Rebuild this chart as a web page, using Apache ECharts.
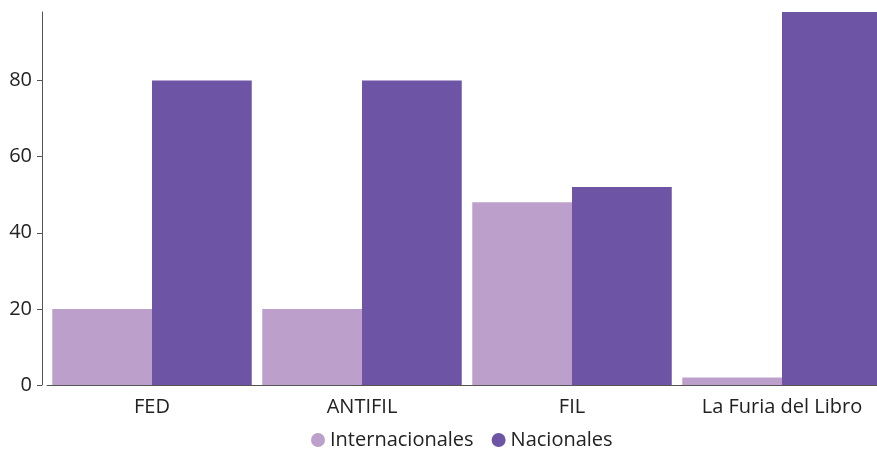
<!DOCTYPE html>
<html><head><meta charset="utf-8">
<script src="https://cdn.jsdelivr.net/npm/echarts@6/dist/echarts.min.js"></script>
<style>html,body{margin:0;padding:0;background:#fff;overflow:hidden;}#c{width:887px;height:450px;}</style>
</head><body><div id="c"></div>
<script>
const categories = ["FED", "ANTIFIL", "FIL", "La Furia del Libro"];
const internacionales = [20, 20, 48, 2];
const nacionales = [80, 80, 52, 98];
const seriesNames = ["Internacionales", "Nacionales"];
const yTicks = [0, 20, 40, 60, 80];
const colors = ["#bca0cb", "#6d54a5"];
const font = "'Open Sans', 'Noto Sans', sans-serif";

const chart = echarts.init(document.getElementById('c'), null, {renderer: 'canvas'});
chart.setOption({
  animation: false,
  color: colors,
  textStyle: {fontFamily: font},
  grid: {left: 47, right: 0, top: 12, bottom: 65, containLabel: false},
  legend: {
    top: 430, left: 311, padding: 0,
    icon: 'circle', itemWidth: 14, itemHeight: 14, itemGap: 18,
    textStyle: {fontSize: 20, color: '#222', fontFamily: font},
    data: seriesNames
  },
  xAxis: {
    type: 'category', data: categories,
    axisLine: {lineStyle: {color: '#555', width: 1}},
    axisTick: {alignWithLabel: true, length: 5, lineStyle: {color: '#555'}},
    axisLabel: {fontSize: 20, color: '#222', margin: 12}
  },
  yAxis: {
    type: 'value', min: 0, max: 98, interval: 20, offset: 5,
    splitLine: {show: false},
    axisLine: {show: true, lineStyle: {color: '#555', width: 1}},
    axisTick: {show: true, length: 5, lineStyle: {color: '#555'}, customValues: yTicks},
    axisLabel: {fontSize: 20, color: '#222', margin: 10, customValues: yTicks}
  },
  series: [
    {name: seriesNames[0], type: 'bar', data: internacionales, barGap: '0%', barCategoryGap: '5%'},
    {name: seriesNames[1], type: 'bar', data: nacionales, barGap: '0%', barCategoryGap: '5%'}
  ]
});
</script></body></html>
